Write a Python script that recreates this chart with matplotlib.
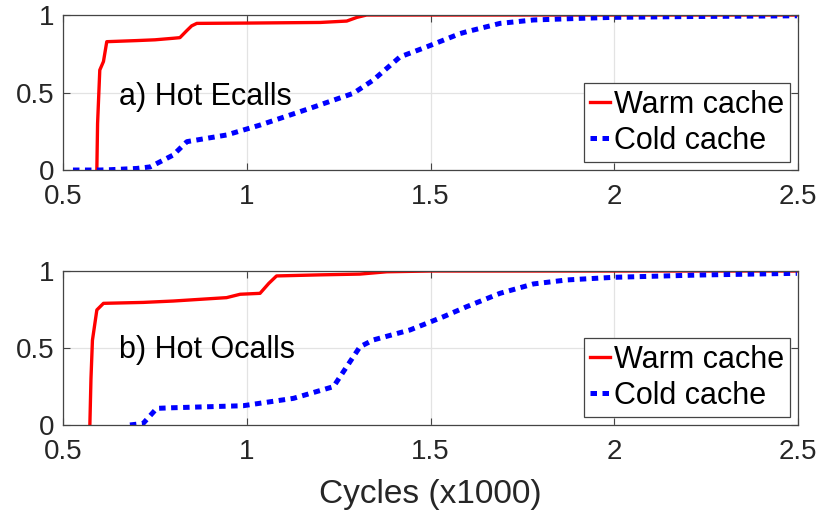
import numpy as np
import matplotlib.pyplot as plt

plt.rcParams['font.family'] = ['Liberation Sans', 'DejaVu Sans']
plt.rcParams['xtick.labelcolor'] = '#262626'
plt.rcParams['ytick.labelcolor'] = '#262626'

# cycles (x1000) vs CDF
ecall_warm_x = [0.592, 0.594, 0.600, 0.610, 0.619, 0.70, 0.75, 0.80, 0.818, 0.837, 0.850, 0.864,
                1.00, 1.10, 1.20, 1.272, 1.300, 1.326, 1.50, 2.00, 2.50]
ecall_warm_y = [0.0, 0.30, 0.645, 0.70, 0.828, 0.835, 0.840, 0.850, 0.854, 0.90, 0.93, 0.946,
                0.948, 0.950, 0.952, 0.961, 0.985, 1.0, 1.0, 1.0, 1.0]
ecall_cold_x = [0.527, 0.60, 0.628, 0.70, 0.737, 0.80, 0.837, 0.945, 1.036, 1.172, 1.29, 1.344,
                1.417, 1.49, 1.58, 1.598, 1.689, 1.78, 1.90, 1.997, 2.20, 2.497]
ecall_cold_y = [0.0, 0.0, 0.002, 0.01, 0.02, 0.097, 0.183, 0.226, 0.29, 0.398, 0.495, 0.58,
                0.73, 0.795, 0.88, 0.892, 0.946, 0.968, 0.978, 0.985, 0.99, 0.995]

ocall_warm_x = [0.573, 0.576, 0.580, 0.592, 0.610, 0.718, 0.80, 0.945, 0.982, 1.036, 1.060, 1.081,
                1.20, 1.308, 1.381, 1.50, 2.00, 2.50]
ocall_warm_y = [0.0, 0.30, 0.55, 0.747, 0.79, 0.796, 0.805, 0.827, 0.849, 0.855, 0.92, 0.968,
                0.975, 0.98, 0.995, 1.0, 1.0, 1.0]
ocall_cold_x = [0.682, 0.718, 0.755, 0.80, 0.99, 1.127, 1.236, 1.272, 1.308, 1.344, 1.444, 1.535,
                1.598, 1.689, 1.78, 1.871, 1.998, 2.233, 2.497]
ocall_cold_y = [0.0, 0.01, 0.108, 0.112, 0.125, 0.173, 0.249, 0.379, 0.508, 0.552, 0.617, 0.703,
                0.768, 0.855, 0.916, 0.942, 0.959, 0.974, 0.985]

panels = [
    ('a) Hot Ecalls', ecall_warm_x, ecall_warm_y, ecall_cold_x, ecall_cold_y, 0.47),
    ('b) Hot Ocalls', ocall_warm_x, ocall_warm_y, ocall_cold_x, ocall_cold_y, 0.487),
]

fig = plt.figure(figsize=(8.24, 5.16), dpi=100)
rects = [[0.0765, 0.6705, 0.892, 0.3004], [0.0765, 0.1764, 0.892, 0.2984]]

for rect, (label, wx, wy, cx, cy, ty) in zip(rects, panels):
    ax = fig.add_axes(rect)
    ax.plot(wx, wy, color='red', lw=2.4, label='Warm cache')
    ax.plot(cx, cy, color='blue', lw=3.6, linestyle=(0, (1.3, 1.1)), label='Cold cache')
    ax.set_xlim(0.5, 2.5)
    ax.set_ylim(0, 1)
    ax.set_xticks([0.5, 1, 1.5, 2, 2.5])
    ax.set_xticklabels(['0.5', '1', '1.5', '2', '2.5'])
    ax.set_yticks([0, 0.5, 1])
    ax.set_yticklabels(['0', '0.5', '1'])
    ax.grid(True, color='#e3e3e3', lw=0.9)
    ax.set_axisbelow(True)
    ax.tick_params(direction='in', length=5, labelsize=20, color='#444444',
                   top=True, right=True)
    ax.tick_params(axis='x', pad=10)
    ax.tick_params(axis='y', pad=6)
    for s in ax.spines.values():
        s.set_color('#444444')
        s.set_linewidth(0.9)
    ax.text(0.652, ty, label, fontsize=22, va='center', ha='left', color='black')
    leg = ax.legend(loc='lower right', fontsize=22, handlelength=0.65, handletextpad=0.12,
                    borderpad=0.2, labelspacing=0.2, fancybox=False, framealpha=1,
                    edgecolor='#444444', borderaxespad=0.27)
    leg.get_frame().set_linewidth(0.9)

ax.set_xlabel('Cycles (x1000)', fontsize=24, labelpad=10, color='#262626')

fig.savefig('out.png', dpi=100)
